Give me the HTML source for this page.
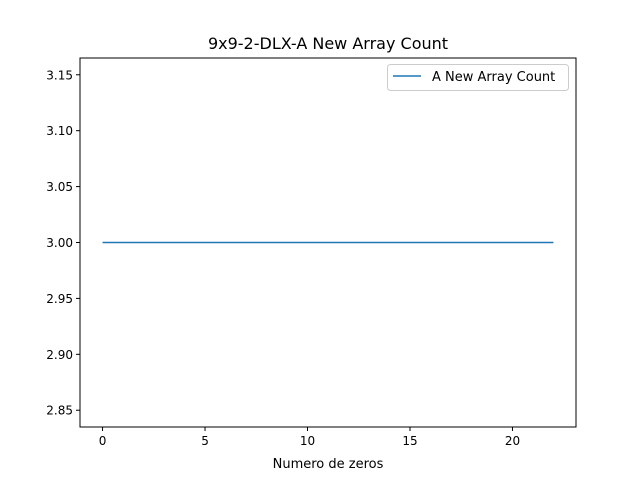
<!DOCTYPE html>
<html><head><meta charset="utf-8"><style>
body{margin:0;background:#fff;}
svg text{font-family:"DejaVu Sans","Liberation Sans",sans-serif;}
</style></head><body>
<svg id="chart" width="640" height="480" viewBox="0 0 640 480">
<rect width="640" height="480" fill="#fff"/>
<text x="328" y="49" font-size="16" text-anchor="middle">9x9-2-DLX-A New Array Count</text>
<g id="plot"></g>
<rect x="80" y="58" width="496" height="369" fill="none" stroke="#000" stroke-width="1"/>
<text x="328" y="468" font-size="13" text-anchor="middle">Numero de zeros</text>
<g>
<rect x="387.5" y="64.5" width="181" height="26" rx="3" fill="#fff" stroke="#ccc"/>
<line x1="393" y1="76" x2="421" y2="76" stroke="#1f77b4" stroke-width="1.5"/>
<text x="432" y="81" font-size="13">A New Array Count</text>
</g>
</svg>
<script>
const xValues=[0,1,2,3,4,5,6,7,8,9,10,11,12,13,14,15,16,17,18,19,20,21,22];
const yValues=[3,3,3,3,3,3,3,3,3,3,3,3,3,3,3,3,3,3,3,3,3,3,3];
const xTicks=[0,5,10,15,20];
const yTicks=[2.85,2.90,2.95,3.00,3.05,3.10,3.15];
const yTickLabels=["2.85","2.90","2.95","3.00","3.05","3.10","3.15"];
const X0=80,X1=576,Y0=58,Y1=427;
const xmin=-1.1,xmax=23.1,ymin=2.835,ymax=3.165;
const sx=v=>X0+(v-xmin)/(xmax-xmin)*(X1-X0);
const sy=v=>Y1-(v-ymin)/(ymax-ymin)*(Y1-Y0);
const NS="http://www.w3.org/2000/svg";
const g=document.getElementById('plot');
function mk(t,a){const e=document.createElementNS(NS,t);for(const k in a)e.setAttribute(k,a[k]);g.appendChild(e);return e;}
xTicks.forEach(t=>{
 const l=mk('line',{x1:sx(t),x2:sx(t),y1:Y1,y2:Y1+4,stroke:'#000'});
 
 
 const tx=mk('text',{x:sx(t),y:Y1+18,'font-size':12,'text-anchor':'middle'});
 tx.textContent=t;
 
 
});
yTicks.forEach((t,i)=>{
 const l=mk('line',{x1:X0-4,x2:X0,y1:sy(t),y2:sy(t),stroke:'#000'});
 
 
 const tx=mk('text',{x:X0-7,y:sy(t)+4.5,'font-size':12,'text-anchor':'end'});
 tx.textContent=yTickLabels[i];
 
 
});
const p=mk('polyline',{points:xValues.map((x,i)=>sx(x)+','+sy(yValues[i])).join(' '),fill:'none',stroke:'#1f77b4','stroke-width':1.5});


</script>
</body></html>
